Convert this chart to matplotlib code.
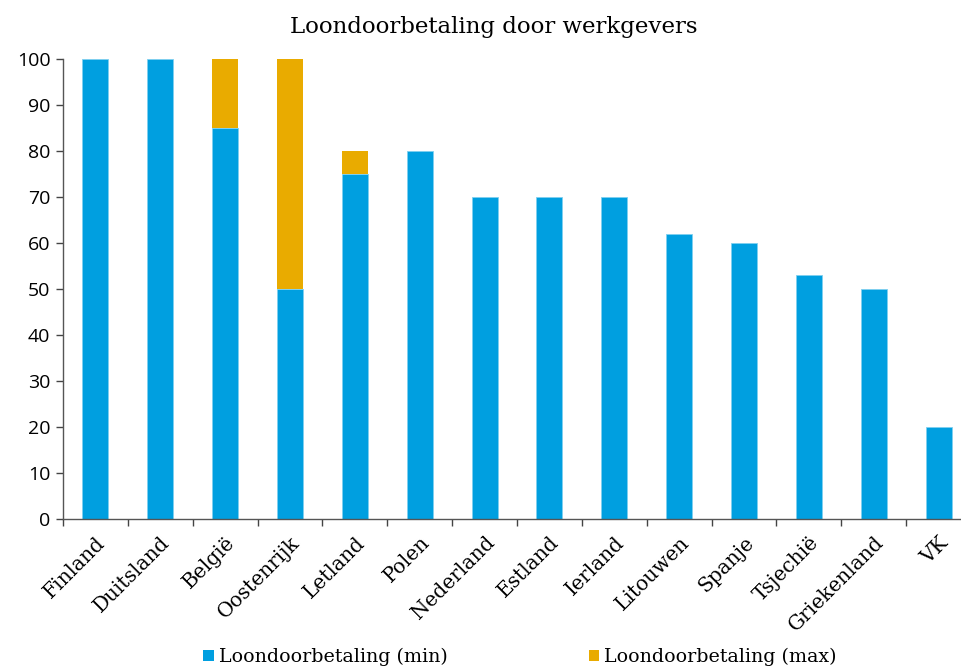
import matplotlib
matplotlib.use("Agg")
import matplotlib.pyplot as plt
from matplotlib.patches import Patch

categories = ["Finland", "Duitsland", "België", "Oostenrijk", "Letland", "Polen",
              "Nederland", "Estland", "Ierland", "Litouwen", "Spanje", "Tsjechië",
              "Griekenland", "VK"]
min_values = [100, 100, 85, 50, 75, 80, 70, 70, 70, 62, 60, 53, 50, 20]
max_extra = [0, 0, 15, 50, 5, 0, 0, 0, 0, 0, 0, 0, 0, 0]
yticks = [0, 10, 20, 30, 40, 50, 60, 70, 80, 90, 100]

BLUE = "#009FE0"
ORANGE = "#E9AB00"
SERIF = "DejaVu Serif"
SANS = "Open Sans"

W, H = 962, 668
fig = plt.figure(figsize=(W / 100, H / 100), dpi=100)
left, right, bottom, top = 63, 971, 519, 59
ax = fig.add_axes([left / W, (H - bottom) / H, (right - left) / W, (bottom - top) / H])

x = list(range(len(categories)))
ax.bar(x, min_values, width=0.4, color=BLUE, edgecolor="#7FD0F0", linewidth=0.6)
ax.bar(x, max_extra, width=0.4, bottom=min_values, color=ORANGE, edgecolor="none",
       linewidth=0)

ax.set_xlim(-0.5, len(categories) - 0.5)
ax.set_ylim(0, 100)
ax.set_yticks(yticks)
ax.set_yticklabels([str(v) for v in yticks], fontfamily=SANS, fontsize=14)
ax.set_xticks(x)
ax.set_xticklabels(categories, rotation=45, ha="right", rotation_mode="anchor",
                   fontfamily=SERIF, fontsize=14.5)
ax.tick_params(axis="x", length=0, pad=10)
ax.set_xticks([i + 0.5 for i in range(-1, len(categories))], minor=True)
ax.tick_params(axis="x", which="minor", length=5, width=1, color="#444444")
ax.tick_params(axis="y", length=5, width=1, color="#444444", pad=4)
for s in ["top", "right"]:
    ax.spines[s].set_visible(False)
for s in ["left", "bottom"]:
    ax.spines[s].set_color("#555555")
    ax.spines[s].set_linewidth(1)

fig.text(494 / W, 1 - 27 / H, "Loondoorbetaling door werkgevers", ha="center", va="center",
         fontfamily=SERIF, fontsize=16.5)

handles = [Patch(facecolor=BLUE, label="Loondoorbetaling (min)"),
           Patch(facecolor=ORANGE, label="Loondoorbetaling (max)")]
fig.legend(handles=handles, loc="center", bbox_to_anchor=(520 / W, 1 - 657 / H), ncol=2,
           frameon=False, prop={"family": SERIF, "size": 13.7}, handlelength=0.55,
           handleheight=0.55, handletextpad=0.28, columnspacing=7.4)

fig.savefig("out.png", dpi=100)
